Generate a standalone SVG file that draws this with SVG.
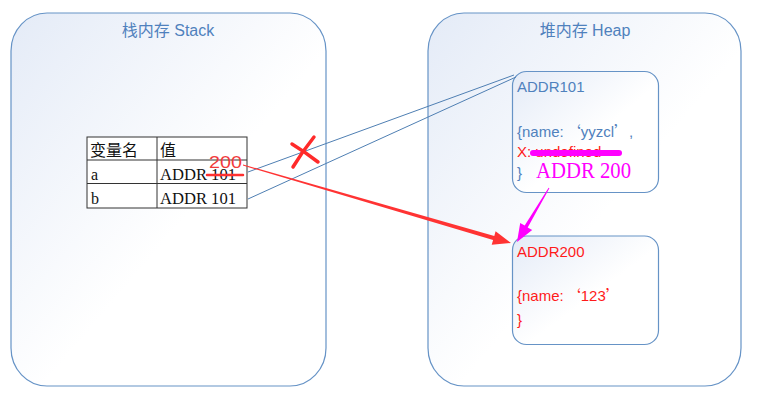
<svg xmlns="http://www.w3.org/2000/svg" width="768" height="407" viewBox="0 0 768 407">
<defs>
<linearGradient id="g" x1="0" y1="0" x2="1" y2="1">
<stop offset="0" stop-color="#e4ebf7"/>
<stop offset="0.55" stop-color="#ffffff"/>
<stop offset="1" stop-color="#ffffff"/>
</linearGradient>
<style>
.box{fill:url(#g);stroke:#6693c6;stroke-width:1.2}
.title{font-family:"Liberation Sans","Noto Sans CJK SC",sans-serif;font-size:16px;fill:#4f81bd;text-anchor:middle}
.t{font-family:"Liberation Sans","Noto Sans CJK SC",sans-serif;font-size:15px}
.q{font-family:"Noto Sans CJK SC",sans-serif}
.blue{fill:#4f81bd}
.red{fill:#ff1a1a}
.cell{fill:#ffffff;stroke:#333;stroke-width:1}
.tt{font-family:"Liberation Serif","Noto Sans CJK SC",serif;font-size:16px;fill:#111}
.cn{font-family:"Noto Sans CJK SC",sans-serif;font-size:16px;fill:#111}
.ln{stroke:#4f7fb3;stroke-width:1;fill:none}
</style>
</defs>
<rect width="768" height="407" fill="#ffffff"/>
<g id="stack">
<rect class="box" x="11" y="13" width="315" height="373" rx="36" ry="38"/>
<text class="title" x="168" y="36">栈内存 Stack</text>
</g>
<g id="heap">
<rect class="box" x="428" y="13" width="313" height="373" rx="36" ry="38"/>
<text class="title" x="585" y="36">堆内存 Heap</text>
</g>
<g id="table">
<rect class="cell" x="87" y="137" width="160" height="71"/>
<line x1="87" y1="160" x2="247" y2="160" stroke="#333"/>
<line x1="87" y1="183.5" x2="247" y2="183.5" stroke="#333"/>
<line x1="157" y1="137" x2="157" y2="208" stroke="#333"/>
<text class="cn" x="90" y="156">变量名</text>
<text class="cn" x="160" y="156">值</text>
<text class="tt" x="91" y="180">a</text>
<text class="tt" x="160" y="180" textLength="76" lengthAdjust="spacingAndGlyphs">ADDR 101</text>
<text class="tt" x="91" y="204">b</text>
<text class="tt" x="160" y="204" textLength="76" lengthAdjust="spacingAndGlyphs">ADDR 101</text>
<line x1="207" y1="175" x2="243" y2="175" stroke="#ff3030" stroke-width="2.5" stroke-linecap="round"/>
<text x="209" y="167.5" font-family="Liberation Sans,sans-serif" font-size="17" fill="#f23c3c" textLength="33" lengthAdjust="spacingAndGlyphs">200</text>
</g>
<g id="addr101">
<rect class="box" x="512.5" y="71.5" width="146" height="121" rx="14"/>
<text class="t blue" x="517" y="92">ADDR101</text>
<text class="t blue" x="517" y="137">{name:<tspan class="q" dx="2">‘</tspan>yyzcl<tspan class="q">’</tspan>,</text>
<text class="t red" x="517" y="157">X: undefined</text>
<line x1="533" y1="153" x2="619" y2="153" stroke="#ff00ff" stroke-width="6" stroke-linecap="round"/>
<text class="t blue" x="517" y="178">}</text>
<text x="536" y="178" font-family="Liberation Serif,serif" font-size="23" fill="#ff00ff" textLength="95" lengthAdjust="spacingAndGlyphs">ADDR 200</text>
</g>
<g id="addr200">
<rect class="box" x="512.5" y="236" width="146" height="108.5" rx="14"/>
<text class="t red" x="517" y="257">ADDR200</text>
<text class="t red" x="517" y="301">{name:<tspan class="q" dx="2">‘</tspan>123<tspan class="q">’</tspan></text>
<text class="t red" x="517" y="325">}</text>
</g>
<g id="connectors">
<line class="ln" x1="248" y1="172" x2="514" y2="75"/>
<line class="ln" x1="248" y1="199" x2="516" y2="77"/>
<polygon fill="#ff3333" points="243.1,164.5 494.3,236.1 495.6,231.3 511,243 491.7,244.7 493.1,239.9 242.9,165.5"/>
<polygon fill="#ff00ff" points="548.6,187.7 524.7,225.6 520.2,222.9 517,242 532.2,230.1 527.7,227.4 549.4,188.3"/>
<g stroke="#ff2a2a" stroke-width="3.5" stroke-linecap="round" fill="none">
<path d="M292,144 Q305,152 318,162"/>
<path d="M314,137 Q302,152 293,167"/>
</g>
</g>
</svg>
